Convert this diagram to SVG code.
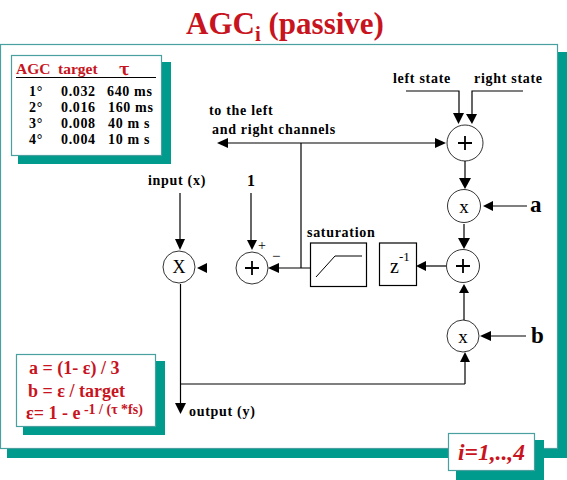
<svg xmlns="http://www.w3.org/2000/svg" width="567" height="480" viewBox="0 0 567 480">
<style>
text{font-family:"Liberation Serif","Times New Roman",serif;font-weight:bold;fill:#000}
.l{font-size:14px;letter-spacing:.7px}
.r{fill:#c8141e}
.t{font-size:14px;letter-spacing:.65px}
.sh{fill:#009b8c}
.bx{fill:#fff;stroke:#4a9f9f;stroke-width:1.2}
.c{fill:#fff;stroke:#000;stroke-width:.8}
.s{fill:#fff;stroke:#000;stroke-width:1.2}
.o{font-family:"Liberation Serif",serif;font-weight:normal}
.x{font-weight:normal;font-size:19px}
#connectors path{fill:none;stroke:#000;stroke-width:1.2}
#connectors polygon{fill:#000}
</style>
<defs>
<path id="plus" d="M-7 0H7M0-7V7" stroke="#000" stroke-width="1.800" fill="none"/>
</defs>
<rect width="567" height="480" fill="#fff"/>
<text x="285" y="34" text-anchor="middle" class="r" style="font-size:31px">AGC<tspan dy="7" font-size="21">i</tspan><tspan dy="-7"> (passive)</tspan></text>
<g id="frame">
<rect class="sh" x="7" y="52" width="560" height="406"/>
<rect class="bx" x="0.500" y="44.500" width="557" height="404"/>
</g>
<g id="table">
<rect class="sh" x="18" y="62" width="153" height="102"/>
<rect class="bx" x="11.500" y="55.500" width="150" height="100"/>
<text class="r" x="16" y="74" style="font-size:15.500px">AGC</text>
<text class="r" x="58" y="74" style="font-size:15.500px">target</text>
<text class="r" x="119" y="75" style="font-family:'DejaVu Serif',serif;font-size:16px">τ</text>
<path d="M16 77.500H156" stroke="#000" fill="none"/>
<text class="t" x="29" y="96">1°</text><text class="t" x="61" y="96">0.032</text><text class="t" x="107" y="96">640 ms</text>
<text class="t" x="29" y="112">2°</text><text class="t" x="61" y="112">0.016</text><text class="t" x="108" y="112">160 ms</text>
<text class="t" x="29" y="128">3°</text><text class="t" x="61" y="128">0.008</text><text class="t" x="108" y="128">40 m s</text>
<text class="t" x="29" y="144">4°</text><text class="t" x="61" y="144">0.004</text><text class="t" x="108" y="144">10 m s</text>
</g>
<g id="connectors">
<path d="M406 91H459V116"/>
<path d="M523 91H472V116"/>
<polygon points="453,113 464,113 458.500,124"/><polygon points="466,114 477,114 472,124"/>
<path d="M228 143H437"/>
<polygon points="217,143 228,138 228,148"/><polygon points="435,138 435,148 446,143"/>
<path d="M301 143V268"/>
<path d="M465 161V180"/><polygon points="459,178 471,178 465,189"/>
<path d="M527 206H490"/><polygon points="483,206 493,201 493,211"/>
<path d="M464 224V240"/><polygon points="458,238 470,238 464,249"/>
<path d="M180 193V242"/><polygon points="175,239 185,239 180,250"/>
<path d="M251 193V242"/><polygon points="247,240 257,240 252,250"/>
<polygon points="197,268 207,263 207,273"/>
<polygon points="268,268 279,263 279,273"/>
<path d="M277 268H310"/>
<path d="M446 266H424"/><polygon points="416,266 426,261 426,271"/>
<path d="M464 320V291"/><polygon points="459,293 469,293 464,284"/>
<path d="M526 336H490"/><polygon points="480,336 491,331 491,341"/>
<path d="M465 384V360"/><polygon points="460,362 470,362 465,352"/>
<path d="M180.500 284V404"/><polygon points="175,403 186,403 180.500,414"/>
<path d="M180 384H465"/>
</g>
<g id="labels">
<text class="l" x="209" y="115">to the left</text>
<text class="l" x="212" y="134">and right channels</text>
<text class="l" x="393" y="83">left state</text>
<text class="l" x="474" y="83">right state</text>
<text class="l" x="148" y="185">input (x)</text>
<text x="247" y="186" style="font-size:16px">1</text>
<text class="l" x="307" y="237">saturation</text>
<text class="l" x="189" y="416">output (y)</text>
<text x="530" y="212" style="font-size:23px">a</text>
<text x="531" y="343" style="font-size:23px">b</text>
<text class="o" x="258" y="250" style="font-size:14px">+</text>
<text class="o" x="272" y="261" style="font-size:15px">−</text>
</g>
<g id="sum-top"><circle class="c" cx="465" cy="143" r="18"/><use href="#plus" x="465" y="143"/></g>
<g id="mul-a"><circle class="c" cx="464" cy="206" r="16.500"/><text class="x" x="464" y="213" text-anchor="middle">x</text></g>
<g id="sum-mid"><circle class="c" cx="463" cy="266" r="16.500"/><use href="#plus" x="463" y="266"/></g>
<g id="mul-b"><circle class="c" cx="463" cy="336" r="16"/><text class="x" x="463" y="343" text-anchor="middle">x</text></g>
<g id="mul-x"><circle class="c" cx="179" cy="267" r="16"/><text x="179" y="273" text-anchor="middle" style="font-size:18px;font-weight:normal">X</text></g>
<g id="sum-left"><circle class="c" cx="252" cy="268" r="16"/><use href="#plus" x="252" y="268"/></g>
<g id="saturation"><rect class="s" x="310.500" y="243" width="56" height="43.500"/><path d="M316 277L335 256H362" fill="none" stroke="#000"/></g>
<g id="delay"><rect class="s" x="379.500" y="243" width="37" height="42.500"/><text class="o" x="390" y="273" style="font-size:20px">z<tspan dy="-12" font-size="13">-1</tspan></text></g>
<g id="formulas">
<rect class="sh" x="23" y="361" width="142" height="74"/>
<rect class="bx" x="16.500" y="354.500" width="139" height="72"/>
<text class="r" x="29" y="374" style="font-size:18px">a = (1- ε) / 3</text>
<text class="r" x="28" y="397" style="font-size:18px">b = ε / target</text>
<text class="r" x="26" y="419" style="font-size:18px">ε= 1 - e<tspan dy="-5" font-size="14"> -1 / (τ *fs)</tspan></text>
</g>
<g id="index">
<rect class="sh" x="456" y="440" width="88" height="40"/>
<rect class="bx" x="448.500" y="433.500" width="86" height="37"/>
<text class="r" x="491.500" y="460" text-anchor="middle" style="font-size:23.500px;font-style:italic">i=1,..,4</text>
</g>
</svg>
